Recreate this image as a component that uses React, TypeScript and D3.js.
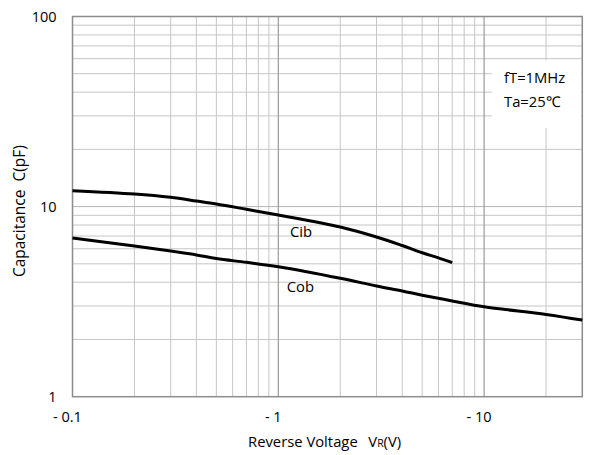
import * as d3 from 'd3'

// reverse voltage magnitudes (V), plotted as -V on a log axis
const cibVoltage = [0.1, 0.2, 0.3, 0.4, 0.5, 0.7, 1, 2, 3, 4, 5, 6, 7]
const cibValues = [12.13, 11.65, 11.19, 10.7, 10.32, 9.68, 9.03, 7.81, 6.92, 6.24, 5.72, 5.37, 5.07]

const cobVoltage = [0.1, 0.2, 0.3, 0.4, 0.5, 0.7, 1, 2, 3, 4, 5, 7, 10, 20, 30]
const cobValues = [6.83, 6.2, 5.84, 5.57, 5.33, 5.09, 4.83, 4.2, 3.82, 3.6, 3.42, 3.19, 2.97, 2.71, 2.53]

const xTicks = [0.1, 1, 10]
const xTickLabels = ['- 0.1', '- 1', '- 10']
const yTicks = [1, 10, 100]
const yTickLabels = ['1', '10', '100']

const xMinorGrid = [0.2, 0.3, 0.4, 0.5, 0.6, 0.7, 0.8, 0.9, 2, 3, 4, 5, 6, 7, 8, 9, 20]
const xMajorGrid = [1, 10]
const yMinorGrid = [2, 3, 4, 5, 6, 7, 8, 9, 20, 30, 40, 50, 60, 70, 80, 90]
const yMajorGrid = [10]

const width = 590
const height = 455
const plot = { left: 72.5, right: 582.3, top: 16.5, bottom: 396.7 }
const font = '"Open Sans", "Liberation Sans", sans-serif'

export default function App() {
  const x = d3.scaleLog().domain([0.1, 30]).range([plot.left, plot.right])
  const y = d3.scaleLog().domain([1, 100]).range([plot.bottom, plot.top])

  const line = d3
    .line<[number, number]>()
    .x((d) => x(d[0]))
    .y((d) => y(d[1]))
    .curve(d3.curveCatmullRom.alpha(0.5))

  const cib = line(cibVoltage.map((v, i) => [v, cibValues[i]]) as [number, number][]) ?? ''
  const cob = line(cobVoltage.map((v, i) => [v, cobValues[i]]) as [number, number][]) ?? ''

  const midY = (plot.top + plot.bottom) / 2

  return (
    <svg
      width={width}
      height={height}
      style={{ position: 'absolute', left: 0, top: 0, background: '#fff' }}
      fontFamily={font}
    >
      <rect x={0} y={0} width={width} height={height} fill="#fff" />

      {/* grid */}
      {xMinorGrid.map((v) => (
        <line key={`xm${v}`} x1={x(v)} x2={x(v)} y1={plot.top} y2={plot.bottom} stroke="#c6c6c6" strokeWidth={1} />
      ))}
      {yMinorGrid.map((v) => (
        <line key={`ym${v}`} x1={plot.left} x2={plot.right} y1={y(v)} y2={y(v)} stroke="#c6c6c6" strokeWidth={1} />
      ))}
      {yMajorGrid.map((v) => (
        <line key={`yM${v}`} x1={plot.left} x2={plot.right} y1={y(v)} y2={y(v)} stroke="#b4b4b4" strokeWidth={1} />
      ))}
      {xMajorGrid.map((v) => (
        <line key={`xM${v}`} x1={x(v)} x2={x(v)} y1={plot.top} y2={plot.bottom} stroke="#9a9a9a" strokeWidth={1.2} />
      ))}

      {/* condition box */}
      <rect x={492} y={60.5} width={89} height={67.5} fill="#fff" />
      <text x={504} y={83.3} fontSize={14.8} fill="#000">fT=1MHz</text>
      <text x={504} y={107.3} fontSize={14.8} fill="#000">Ta=25℃</text>

      <rect
        x={plot.left}
        y={plot.top}
        width={plot.right - plot.left}
        height={plot.bottom - plot.top}
        fill="none"
        stroke="#8c8c8c"
        strokeWidth={1.5}
      />

      <path d={cib} fill="none" stroke="#000" strokeWidth={3} />
      <path d={cob} fill="none" stroke="#000" strokeWidth={3} />

      <text x={290} y={236.7} fontSize={14.8} fill="#000">Cib</text>
      <text x={286.7} y={291.7} fontSize={14.8} fill="#000">Cob</text>

      {/* y ticks */}
      {yTicks.map((v, i) => (
        <text key={`yt${v}`} x={plot.left - 16} y={y(v)} dy="0.35em" textAnchor="end" fontSize={14.5} fill="#000">
          {yTickLabels[i]}
        </text>
      ))}

      {/* x ticks */}
      {xTicks.map((v, i) => (
        <text key={`xt${v}`} x={x(v) - 5} y={421.7} textAnchor="middle" fontSize={14.5} fill="#000">
          {xTickLabels[i]}
        </text>
      ))}

      <text x={248} y={446.7} fontSize={14.8} fill="#000">Reverse Voltage</text>
      <text x={368.3} y={446.7} fontSize={14.8} fill="#000">
        V<tspan fontSize={10.5}>R</tspan>(V)
      </text>

      <text
        transform={`translate(24.5 ${midY + 4.5}) rotate(-90)`}
        textAnchor="middle"
        fontSize={15.5}
        fill="#000"
        style={{ whiteSpace: 'pre' }}
      >
        {'Capacitance  C(pF)'}
      </text>
    </svg>
  )
}
